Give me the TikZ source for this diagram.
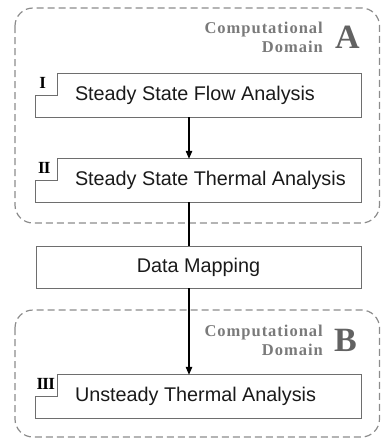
\documentclass[tikz,border=0pt]{standalone}
\usepackage{fontspec}
\setmainfont{Liberation Sans}
\newfontfamily\domfont[LetterSpace=6]{Liberation Serif}
\newfontfamily\numfont{Liberation Serif}
\usetikzlibrary{positioning, arrows.meta, calc}
\definecolor{frameGray}{HTML}{6E6E6E}
\definecolor{domainGray}{HTML}{8C8C8C}
\definecolor{labelGray}{HTML}{7A7A7A}
\definecolor{inkDark}{HTML}{1A1A1A}

\begin{document}
\begin{tikzpicture}[x=1pt, y=-1pt,
    every node/.style={inner sep=0pt},
    stage/.style={minimum width=325pt, minimum height=43pt},
    mapbox/.style={draw=frameGray, line width=0.9pt, minimum width=325pt, minimum height=42pt, font=\fontsize{19.8}{22}\selectfont, text=inkDark},
    txt/.style={font=\fontsize{19.8}{22}\selectfont, text=inkDark},
    frame/.style={draw=frameGray, line width=0.9pt},
    numlbl/.style={font=\numfont\bfseries\fontsize{17}{17}\selectfont},
    domainbox/.style={draw=domainGray, line width=1.2pt, dash pattern=on 7pt off 4pt, rounded corners=18pt},
    domlbl/.style={font=\domfont\bfseries\fontsize{16.5}{19}\selectfont, text=labelGray, align=right, anchor=east},
    domletter/.style={font=\numfont\bfseries\fontsize{34}{34}\selectfont, text=labelGray!80!black},
    link/.style={-{Triangle[length=8pt, width=6.5pt]}, line width=1.1pt, draw=black},
    plain/.style={line width=1.1pt, draw=black},
]
\useasboundingbox (0,0) rectangle (381,442);
% Rechengebiete (gestrichelt)
\draw[domainbox] (15,8) rectangle (379.5,223);
\draw[domainbox] (15,310) rectangle (379.5,437);
\node[domlbl] (domAtxt) at (323,37) {Computational\\Domain};
\node[domletter, right=12pt of domAtxt] (domA) {A};
\node[domlbl] (domBtxt) at (323,340) {Computational\\Domain};
\node[domletter, right=11pt of domBtxt] (domB) {B};
% Stufen, Text links ausgerichtet
\node[stage] (flow)     at (198.5, 95.5) {};
\node[stage] (thermal)  at (198.5,180.5) {};
\node[mapbox] (mapping) at (198.5,267) {Data Mapping};
\node[stage] (unsteady) at (198.5,396.5) {};
\node[txt, right=39pt of flow.west]     (flowtxt)     {Steady State Flow Analysis};
\node[txt, right=39pt of thermal.west]  (thermaltxt)  {Steady State Thermal Analysis};
\node[txt, right=39pt of unsteady.west] (unsteadytxt) {Unsteady Thermal Analysis};
% Rahmen mit Kerbe oben links
\foreach \n in {flow, thermal, unsteady}
  \draw[frame] ([xshift=22pt]\n.north west) -- (\n.north east) -- (\n.south east)
    -- (\n.south west) -- ([yshift=-22pt]\n.north west) -- ++(22pt,0pt) -- cycle;
\node[numlbl] (numI)   at ([xshift=7pt, yshift=-9pt]flow.north west)     {I};
\node[numlbl] (numII)  at ([xshift=8.5pt, yshift=-9pt]thermal.north west)  {I\kern-0.8ptI};
\node[numlbl] (numIII) at ([xshift=10pt, yshift=-9pt]unsteady.north west) {I\kern-0.8ptI\kern-0.8ptI};
% Verbindungen
\coordinate (spine) at (189,0);
\draw[link]  (flow.south -| spine)    -- (thermal.north -| spine);
\draw[plain] (thermal.south -| spine) -- (mapping.north -| spine);
\draw[link]  (mapping.south -| spine) -- (unsteady.north -| spine);
\end{tikzpicture}
\end{document}
